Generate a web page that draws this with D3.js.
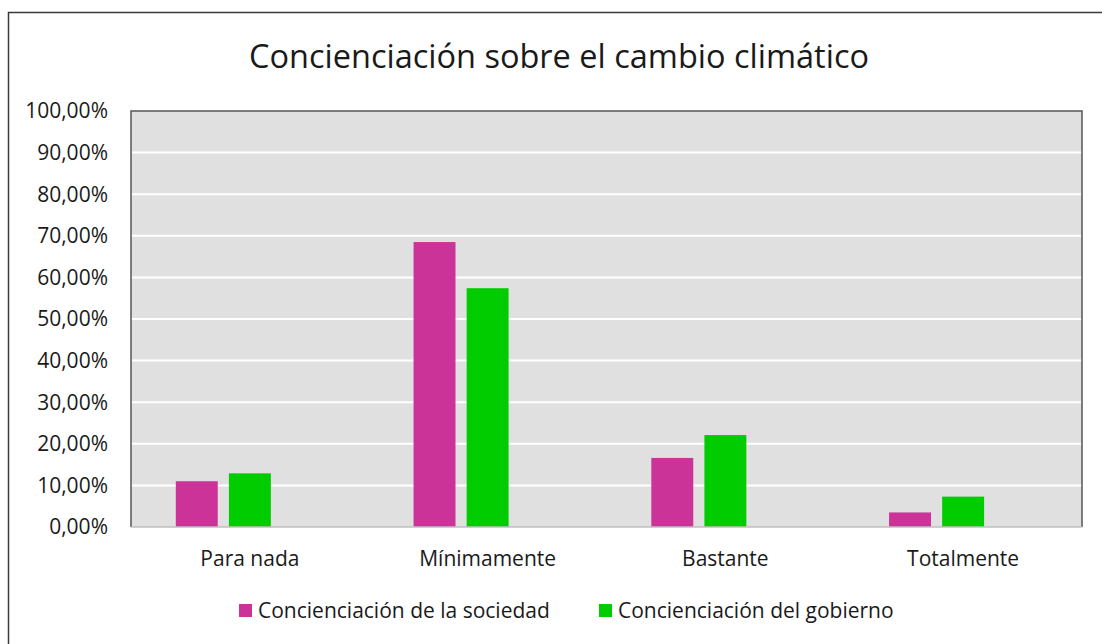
<!DOCTYPE html>
<html>
<head>
<meta charset="utf-8">
<script src="https://cdn.jsdelivr.net/npm/d3@7"></script>
<style>
  body { margin: 0; background: #fff; }
  text { font-family: "Open Sans", sans-serif; fill: #1a1a1a; }
</style>
</head>
<body>
<svg id="chart" width="1102" height="644"></svg>
<script>
// chart data
const categories = ["Para nada", "Mínimamente", "Bastante", "Totalmente"];
const seriesNames = ["Concienciación de la sociedad", "Concienciación del gobierno"];
const sociedad = [0.110, 0.685, 0.166, 0.035];
const gobierno = [0.129, 0.574, 0.221, 0.073];
const seriesColors = ["#cc3399", "#00cc00"];
const yTicks = [0, 0.1, 0.2, 0.3, 0.4, 0.5, 0.6, 0.7, 0.8, 0.9, 1.0];

const svg = d3.select("#chart");
const W = 1102, H = 644;
const plot = {left: 131, top: 111, right: 1082, bottom: 527};

// outer frame of the chart
svg.append("rect")
  .attr("x", 8.5).attr("y", 12.5)
  .attr("width", W).attr("height", H)
  .attr("fill", "#fff").attr("stroke", "#3a3a3a").attr("stroke-width", 1.5);

const x = d3.scaleBand()
  .domain(categories)
  .range([plot.left, plot.right])
  .paddingInner(0.377).paddingOuter(0.1885);

// three slots per category, like the excel chart (third one is empty)
const xInner = d3.scaleBand()
  .domain([0, 1, 2])
  .range([0, x.bandwidth()])
  .paddingInner(0.21);

const y = d3.scaleLinear().domain([0, 1]).range([plot.bottom, plot.top]);

// plot background
svg.append("rect")
  .attr("x", plot.left).attr("y", plot.top)
  .attr("width", plot.right - plot.left).attr("height", plot.bottom - plot.top)
  .attr("fill", "#e0e0e0");

// gridlines
svg.append("g")
  .selectAll("line")
  .data(yTicks.filter(d => d > 0 && d < 1))
  .join("line")
  .attr("x1", plot.left).attr("x2", plot.right)
  .attr("y1", d => y(d)).attr("y2", d => y(d))
  .attr("stroke", "#fff").attr("stroke-width", 2);

// bars
const rows = categories.map((c, i) => ({cat: c, vals: [sociedad[i], gobierno[i]]}));
const groups = svg.append("g").selectAll("g")
  .data(rows)
  .join("g")
  .attr("transform", d => `translate(${x(d.cat)},0)`);

groups.selectAll("rect")
  .data(d => d.vals.map((v, k) => ({v, k})))
  .join("rect")
  .attr("x", d => xInner(d.k))
  .attr("width", xInner.bandwidth())
  .attr("y", d => y(d.v))
  .attr("height", d => y(0) - y(d.v))
  .attr("fill", d => seriesColors[d.k]);

// plot border: dark on top/left/right, light bottom axis
svg.append("path")
  .attr("d", `M${plot.left},${plot.bottom} V${plot.top} H${plot.right} V${plot.bottom}`)
  .attr("fill", "none").attr("stroke", "#555").attr("stroke-width", 1.5);
svg.append("line")
  .attr("x1", plot.left).attr("x2", plot.right)
  .attr("y1", plot.bottom).attr("y2", plot.bottom)
  .attr("stroke", "#bfbfbf").attr("stroke-width", 1.5);

// y axis labels
const fmt = d => (d * 100).toFixed(2).replace(".", ",") + "%";
svg.append("g")
  .selectAll("text")
  .data(yTicks)
  .join("text")
  .attr("x", 108)
  .attr("y", d => y(d))
  .attr("dy", "0.35em")
  .attr("text-anchor", "end")
  .attr("font-size", 21)
  .text(fmt);

// x axis labels
svg.append("g")
  .selectAll("text")
  .data(categories)
  .join("text")
  .attr("x", d => x(d) + x.bandwidth() / 2)
  .attr("y", 559)
  .attr("dy", "0.35em")
  .attr("text-anchor", "middle")
  .attr("font-size", 21)
  .text(d => d);

// title
svg.append("text")
  .attr("x", 559).attr("y", 57)
  .attr("dy", "0.35em")
  .attr("text-anchor", "middle")
  .attr("font-size", 32.5)
  .text("Concienciación sobre el cambio climático");

// legend
const legendX = [239, 599];
const legend = svg.append("g").selectAll("g")
  .data(seriesNames)
  .join("g")
  .attr("transform", (d, i) => `translate(${legendX[i]},604)`);
legend.append("rect")
  .attr("width", 13).attr("height", 13)
  .attr("fill", (d, i) => seriesColors[i]);
legend.append("text")
  .attr("x", 19).attr("y", 7)
  .attr("dy", "0.35em")
  .attr("font-size", 21)
  .text(d => d);
</script>
</body>
</html>
